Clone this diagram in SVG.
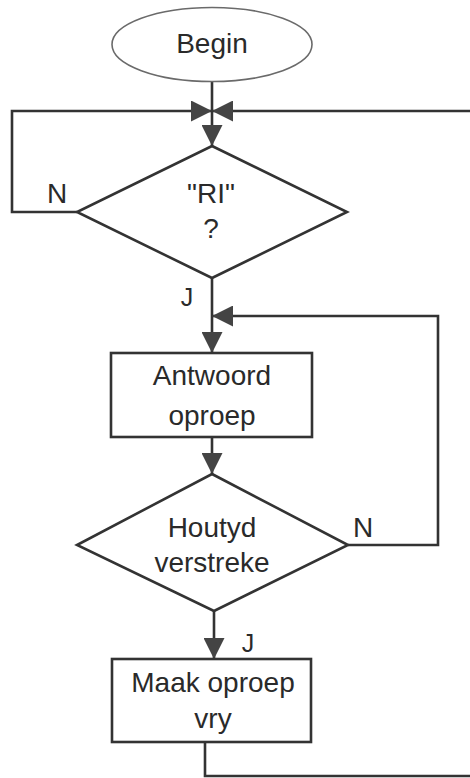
<svg xmlns="http://www.w3.org/2000/svg" width="470" height="778" viewBox="0 0 470 778">
  <style>
    .shape { fill: #ffffff; stroke: #333333; stroke-width: 2.6; }
    .term { fill: #ffffff; stroke: #6a6a6a; stroke-width: 1.6; }
    .conn { fill: none; stroke: #333333; stroke-width: 2.6; }
    .lbl { font-family: "Liberation Sans", Arial, sans-serif; font-size: 28px; fill: #2a2a2a; text-anchor: middle; }
    .small { font-size: 25px; }
  </style>
  <defs>
    <marker id="arrow" markerUnits="userSpaceOnUse" markerWidth="21" markerHeight="21" viewBox="0 0 21 21" refX="21" refY="10.5" orient="auto">
      <path d="M0,0 L21,10.5 L0,21 z" fill="#444444"/>
    </marker>
  </defs>
  <rect width="470" height="778" fill="#ffffff"/>

  <g id="connectors">
    <line class="conn" x1="212" y1="81" x2="212" y2="111"/>
    <path class="conn" d="M77,212 L12,212 L12,111 L212,111" marker-end="url(#arrow)"/>
    <path class="conn" d="M470,111 L212,111" marker-end="url(#arrow)"/>
    <path class="conn" d="M212,111 L212,146" marker-end="url(#arrow)"/>
    <path class="conn" d="M212,278 L212,353" marker-end="url(#arrow)"/>
    <path class="conn" d="M348,545 L438,545 L438,316 L212,316" marker-end="url(#arrow)"/>
    <path class="conn" d="M212,437 L212,474" marker-end="url(#arrow)"/>
    <path class="conn" d="M214,611 L214,659" marker-end="url(#arrow)"/>
    <path class="conn" d="M205,742 L205,776 L470,776"/>
    <text class="lbl" x="57" y="203">N</text>
    <text class="lbl small" x="187" y="306">J</text>
    <text class="lbl" x="363" y="537">N</text>
    <text class="lbl small" x="248" y="652">J</text>
  </g>

  <g id="begin">
    <ellipse class="term" cx="212" cy="44.5" rx="100" ry="37"/>
    <text class="lbl" x="212" y="53">Begin</text>
  </g>

  <g id="ri">
    <polygon class="shape" points="212,146 347,212 212,278 77,212"/>
    <text class="lbl" x="211" y="203">"RI"</text>
    <text class="lbl" x="211" y="238">?</text>
  </g>

  <g id="antwoord">
    <rect class="shape" x="111" y="353" width="201" height="84"/>
    <text class="lbl" x="212" y="385">Antwoord</text>
    <text class="lbl" x="212" y="425">oproep</text>
  </g>

  <g id="houtyd">
    <polygon class="shape" points="212,474 348,545 214,611 77,545"/>
    <text class="lbl" x="212" y="537">Houtyd</text>
    <text class="lbl" x="212" y="572">verstreke</text>
  </g>

  <g id="maak">
    <rect class="shape" x="112" y="659" width="199" height="83"/>
    <text class="lbl" x="213" y="692">Maak oproep</text>
    <text class="lbl" x="213" y="728">vry</text>
  </g>
</svg>
